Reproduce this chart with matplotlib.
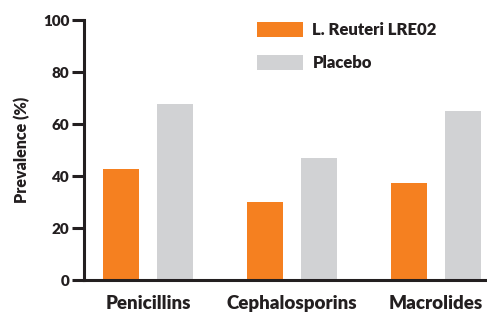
import matplotlib.pyplot as plt
import numpy as np

categories = ['Penicillins', 'Cephalosporins', 'Macrolides']
reuteri = [42.7, 30.0, 37.3]
placebo = [67.7, 46.9, 65.0]
series_labels = ['L. Reuteri LRE02', 'Placebo']
yticks = [0, 20, 40, 60, 80, 100]

ORANGE = '#F58020'
GREY = '#D1D2D4'
DARK = '#231F20'

plt.rcParams['font.family'] = ['Lato', 'DejaVu Sans']

fig = plt.figure(figsize=(4.87, 3.15), dpi=100)
ax = fig.add_axes([84 / 487, 35 / 315, 1 - 84 / 487, 260 / 315])

x = np.arange(len(categories))
w = 0.25
ax.bar(x - 0.1875, reuteri, w, color=ORANGE, label=series_labels[0])
ax.bar(x + 0.1875, placebo, w, color=GREY, label=series_labels[1])

ax.set_xlim(-0.444, 2.354)
ax.set_ylim(0, 100)
ax.set_yticks(yticks)
ax.set_xticks(x)
ax.set_xticklabels(categories, fontsize=13.5, fontweight='heavy', color=DARK)
ax.tick_params(axis='x', length=0, pad=11)
ax.tick_params(axis='y', length=8.5, width=2.2, color=DARK, labelsize=11,
               labelcolor=DARK, pad=2)
for lab in ax.get_yticklabels():
    lab.set_fontweight('heavy')

for s in ['top', 'right']:
    ax.spines[s].set_visible(False)
for s in ['left', 'bottom']:
    ax.spines[s].set_linewidth(2.2)
    ax.spines[s].set_color(DARK)

ax.set_ylabel('Prevalence (%)', fontsize=11.5, fontweight='heavy', color=DARK,
              labelpad=9)

leg = ax.legend(loc='upper left', bbox_to_anchor=(250 / 487, 1 - 15 / 315),
                bbox_transform=fig.transFigure, frameon=False,
                fontsize=12, handlelength=2.8, handleheight=1.0,
                labelspacing=1.05, handletextpad=0.55, borderaxespad=0)
for t in leg.get_texts():
    t.set_fontweight('heavy')
    t.set_color(DARK)

fig.savefig('out.png', dpi=100)
